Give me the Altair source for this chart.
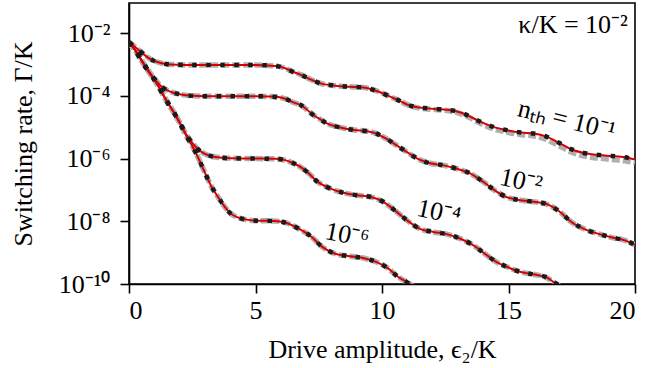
import altair as alt
import pandas as pd

# ---- data (log10 of switching rate) ----
x_a = [0, 0.25, 0.5, 0.75, 1.0, 1.25, 1.5, 2, 2.5, 3, 4, 5, 5.5, 5.9, 6.2, 6.5, 6.8, 7.0, 7.3, 7.6, 8.0, 8.5,
       9.0, 9.4, 9.7, 10.0, 10.3, 10.7, 11.0, 11.3, 11.8, 12.3, 12.8, 13.1, 13.4, 13.9, 14.4, 14.9, 15.5, 16.0,
       16.5, 17.0, 17.5, 18.1, 18.6, 19.1, 19.6, 20]
log_a = [-2.29, -2.45, -2.62, -2.78, -2.89, -2.95, -2.99, -3.01, -3.02, -3.02, -3.02, -3.02, -3.03, -3.06, -3.13,
         -3.24, -3.33, -3.41, -3.52, -3.61, -3.66, -3.70, -3.72, -3.75, -3.82, -3.91, -4.02, -4.16, -4.28, -4.35,
         -4.40, -4.43, -4.47, -4.53, -4.63, -4.83, -4.99, -5.09, -5.17, -5.20, -5.30, -5.50, -5.71, -5.84, -5.89,
         -5.92, -5.96, -6.03]
# grey reference curve for n_th = 1e-1 (slightly lower at large drive)
log_a_grey = [-2.29, -2.45, -2.62, -2.78, -2.89, -2.95, -2.99, -3.01, -3.02, -3.02, -3.02, -3.02, -3.03, -3.06,
              -3.13, -3.24, -3.33, -3.41, -3.52, -3.61, -3.66, -3.70, -3.72, -3.75, -3.82, -3.91, -4.02, -4.16,
              -4.28, -4.36, -4.42, -4.45, -4.50, -4.57, -4.67, -4.88, -5.05, -5.15, -5.24, -5.28, -5.39, -5.59,
              -5.80, -5.94, -5.99, -6.03, -6.07, -6.13]

x_b = [0, 0.25, 0.5, 0.75, 1.0, 1.25, 1.5, 1.75, 2.0, 2.5, 3, 4, 5, 5.5, 5.9, 6.2, 6.5, 6.8, 7.0, 7.3, 7.6, 7.8,
       8.3, 8.9, 9.4, 9.7, 9.9, 10.2, 10.5, 11.0, 11.4, 11.9, 12.4, 12.9, 13.5, 14.0, 14.5, 14.9, 15.4, 16.0, 16.5,
       17.0, 17.5, 18.1, 18.6, 19.1, 19.6, 20]
log_b = [-2.29, -2.55, -2.87, -3.18, -3.45, -3.68, -3.82, -3.90, -3.95, -4.00, -4.01, -4.01, -4.01, -4.02, -4.04,
         -4.10, -4.21, -4.30, -4.42, -4.62, -4.77, -4.87, -5.00, -5.09, -5.13, -5.18, -5.25, -5.38, -5.54, -5.80,
         -6.00, -6.15, -6.21, -6.31, -6.48, -6.74, -7.04, -7.22, -7.32, -7.38, -7.45, -7.68, -8.03, -8.28, -8.41,
         -8.52, -8.61, -8.75]

x_c = [0, 0.25, 0.5, 0.75, 1.0, 1.25, 1.5, 1.75, 2.0, 2.25, 2.5, 2.75, 3.0, 3.4, 4.0, 5.0, 5.8, 6.17, 6.5, 6.76,
       7.1, 7.42, 7.94, 8.47, 9.0, 9.53, 10.05, 10.58, 10.97, 11.5, 12.03, 12.55, 13.08, 13.6, 14.14, 14.53, 14.93,
       15.45, 15.97, 16.5, 16.77, 17.0]
log_c = [-2.29, -2.55, -2.88, -3.20, -3.48, -3.82, -4.18, -4.50, -4.85, -5.22, -5.50, -5.72, -5.85, -5.95, -5.99,
         -6.00, -6.01, -6.05, -6.15, -6.26, -6.47, -6.72, -6.95, -7.09, -7.17, -7.22, -7.38, -7.70, -7.96, -8.24,
         -8.34, -8.41, -8.55, -8.76, -9.08, -9.30, -9.45, -9.61, -9.69, -9.79, -9.93, -10.05]

x_d = [0, 0.25, 0.5, 0.75, 1.0, 1.25, 1.5, 1.75, 2.0, 2.25, 2.5, 2.75, 3.0, 3.25, 3.5, 3.75, 4.0, 4.25, 4.58, 5.0,
       5.77, 6.29, 6.76, 7.22, 7.61, 8.07, 8.66, 9.25, 9.79, 10.24, 10.63, 10.97, 11.2]
log_d = [-2.29, -2.55, -2.88, -3.20, -3.48, -3.82, -4.18, -4.50, -4.85, -5.25, -5.60, -6.00, -6.45, -6.88, -7.20,
         -7.50, -7.74, -7.86, -7.94, -7.98, -7.99, -8.07, -8.26, -8.50, -8.80, -9.01, -9.11, -9.17, -9.30, -9.50,
         -9.77, -9.93, -10.05]

series_names = ["1e-1", "1e-2", "1e-4", "1e-6"]

# curve labels (anchor in data coordinates)
label_text = ["nₜₕ = 10⁻¹", "10⁻²", "10⁻⁴", "10⁻⁶"]
label_x = [17.3, 15.5, 12.25, 8.62]
label_logy = [-4.77, -6.72, -7.71, -8.44]
label_angle = [14, 12, 12, 11]

kappa_text = "κ/K = 10⁻²"
kappa_x = 19.72
kappa_logy = -1.74

x_ticks = [0, 5, 10, 15, 20]
y_ticks = [1e-10, 1e-8, 1e-6, 1e-4, 1e-2]

# ---- build tables ----
def table(xs, logs, name):
    return pd.DataFrame({"x": xs, "rate": [10 ** v for v in logs], "series": name})

main = pd.concat([table(x_a, log_a, series_names[0]), table(x_b, log_b, series_names[1]),
                  table(x_c, log_c, series_names[2]), table(x_d, log_d, series_names[3])], ignore_index=True)
grey = pd.concat([table(x_a, log_a_grey, series_names[0]), table(x_b, log_b, series_names[1]),
                  table(x_c, log_c, series_names[2]), table(x_d, log_d, series_names[3])], ignore_index=True)

FONT = "Liberation Serif"
FS = 26

xs = alt.Scale(domain=[0, 20], nice=False, zero=False)
ys = alt.Scale(type="log", domain=[1e-10, 10 ** -1.04], nice=False)

label_expr = ("(round(log(datum.value)/LN10) == -2) ? '10⁻²' : (round(log(datum.value)/LN10) == -4) ? '10⁻⁴' : "
              "(round(log(datum.value)/LN10) == -6) ? '10⁻⁶' : (round(log(datum.value)/LN10) == -8) ? '10⁻⁸' : '10⁻¹⁰'")

x_enc = alt.X("x:Q", scale=xs, axis=alt.Axis(values=x_ticks, title="Drive amplitude, ϵ₂/K", grid=False,
                                             tickSize=9, labelPadding=4, format="d",
                                             titleX=253, titleY=73, titleBaseline="alphabetic",
                                             titleAlign="center"))
y_enc = alt.Y("rate:Q", scale=ys, axis=alt.Axis(values=y_ticks, title="Switching rate, Γ/K", grid=False,
                                                tickSize=9, labelPadding=10,
                                                titleX=-98, titleY=140.5, titleAngle=-90,
                                                titleBaseline="alphabetic", titleAlign="center",
                                                labelExpr=label_expr))

grey_layer = alt.Chart(grey).mark_line(color="#b0b0b0", strokeWidth=5.5, strokeDash=[8, 3], clip=True,
                                       interpolate="monotone").encode(x=x_enc, y=y_enc, detail="series:N")
red_layer = alt.Chart(main).mark_line(color="#d60000", strokeWidth=2, clip=True,
                                      interpolate="monotone").encode(x=x_enc, y=y_enc, detail="series:N")
dot_layer = alt.Chart(main).mark_line(color="#1a1a1a", strokeWidth=4.5, strokeDash=[4.5, 9.5], strokeCap="butt",
                                      clip=True, interpolate="monotone").encode(x=x_enc, y=y_enc, detail="series:N")

layers = [grey_layer, red_layer, dot_layer]
for t, lx, ly, ang in zip(label_text, label_x, label_logy, label_angle):
    d = pd.DataFrame({"x": [lx], "rate": [10 ** ly], "t": [t]})
    layers.append(alt.Chart(d).mark_text(font=FONT, fontSize=FS, angle=ang, align="center", baseline="middle",
                                         color="black").encode(x=x_enc, y=y_enc, text="t:N"))

kd = pd.DataFrame({"x": [kappa_x], "rate": [10 ** kappa_logy], "t": [kappa_text]})
layers.append(alt.Chart(kd).mark_text(font=FONT, fontSize=FS, align="right", baseline="middle",
                                      color="black").encode(x=x_enc, y=y_enc, text="t:N"))

chart = alt.layer(*layers).properties(
    width=506, height=281,
    autosize=alt.AutoSizeParams(type="none"),
    padding={"left": 129, "top": 3, "right": 12, "bottom": 84},
    background="white",
).configure_view(stroke="black", strokeWidth=1.6).configure_axis(
    labelFont=FONT, titleFont=FONT, labelFontSize=FS, titleFontSize=FS, labelColor="black", titleColor="black",
    domainColor="black", tickColor="black", domainWidth=1.6, tickWidth=1.6, titleFontWeight="normal",
)

chart.save("out.html", embed_options={"renderer": "svg", "actions": False})
